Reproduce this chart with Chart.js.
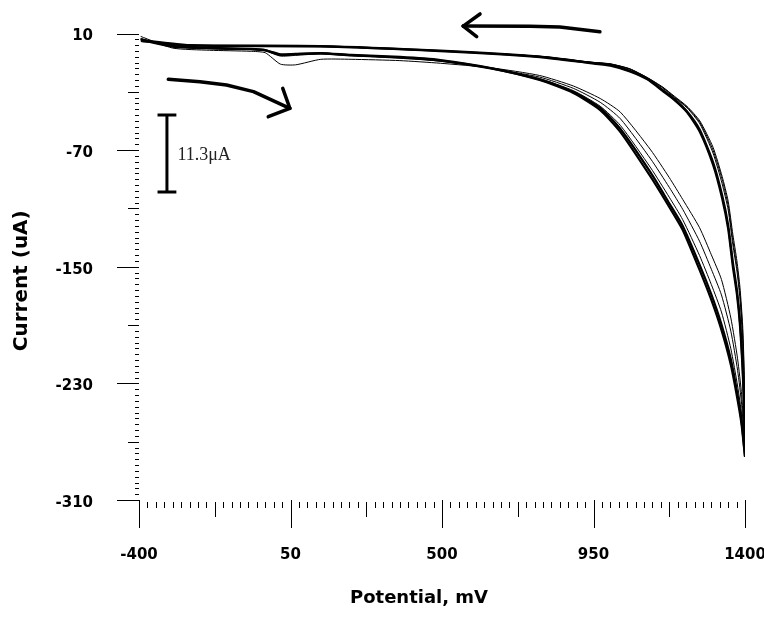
<!DOCTYPE html>
<html>
<head>
<meta charset="utf-8">
<script src="https://cdn.jsdelivr.net/npm/chart.js@4.4.0/dist/chart.umd.min.js"></script>
<style>
  html, body { margin: 0; padding: 0; background: #fff; }
  #wrap { width: 764px; height: 620px; }
</style>
</head>
<body>
<div id="wrap"><canvas id="cv"></canvas></div>
<script>
// potential (mV), forward sweep then return sweep
const forwardPotential = [-395, -300, -190, -70, -25, 20, 65, 140, 230, 375, 495, 645, 790, 890, 970, 1030, 1120, 1175, 1215, 1265, 1300, 1330, 1358, 1378, 1390, 1400];
const reversePotential = [1400, 1399, 1397, 1393, 1385, 1376, 1364, 1350, 1332, 1305, 1266, 1228, 1190, 1156, 1110, 1058, 1000, 940, 791, 494, 138, -257, -394];

// current (uA) - heavy traces
const cycleA_fwd = [6.2, 1.4, 0.1, -0.6, -1.3, -4.7, -4.1, -3.4, -4.7, -6.1, -8.2, -13.7, -21.9, -30.8, -42.5, -57.6, -88.4, -109.0, -124.8, -152.2, -172.8, -193.4, -217.4, -241.4, -258.6, -280.5];
const cycleA_rev = [-280.5, -265, -243, -218, -187, -166, -147, -121.4, -100.8, -78.2, -56.2, -43.5, -35, -28.8, -21, -15.5, -11.5, -10.0, -5.9, -1.8, 1.4, 2.1, 5.5];
const cycleB_fwd = [5.5, 1.0, -0.2, -0.8, -1.5, -4.3, -4.0, -3.6, -5.0, -6.5, -8.6, -13.9, -21.5, -30.0, -41.0, -55.5, -85.5, -106.5, -122.0, -148.5, -169.0, -189.5, -213.5, -238.0, -256.5, -280.0];
const cycleB_rev = [-280, -266, -245, -221, -190, -169, -150, -124, -103, -80, -57.5, -44, -35.5, -29.5, -21.5, -16, -12, -10.4, -6.2, -2.1, 1.1, 1.8, 5.0];

// current (uA) - light traces
const cycle1_fwd = [8.0, 0.0, -1.5, -2.2, -3.2, -11.0, -11.5, -7.7, -7.7, -8.6, -10.4, -13.5, -18.8, -26.0, -34.6, -44.0, -69.9, -88.8, -103.8, -123.2, -141.8, -158.7, -185.2, -213.1, -237.8, -272];
const cycle1_rev = [-272, -240, -216, -190, -164, -146, -128, -105, -88, -68, -50, -40, -33, -26.8, -20.2, -14.2, -10.8, -9.6, -5.6, -2.0, 1.0, 1.8, 4.5];
const cycle2_fwd = [6.5, 1.0, -0.3, -1.0, -2.0, -5.5, -5.0, -4.0, -5.2, -6.8, -9.0, -14.0, -19.9, -27.6, -37.2, -48.5, -76.1, -95.5, -110.6, -132.5, -151.7, -169.3, -194.3, -221.0, -244.3, -275];
const cycle2_rev = [-275, -245, -222, -195, -168, -150, -132, -108, -90, -70, -51, -40.5, -33.5, -27, -20.4, -14.3, -10.9, -9.7, -5.7, -1.9, 1.2, 1.9, 4.8];
const cycle3_fwd = [6.0, 1.2, -0.2, -0.9, -1.8, -5.0, -4.6, -3.8, -5.0, -6.6, -8.7, -13.9, -20.9, -29.2, -39.9, -53.1, -82.2, -102.3, -117.7, -142.3, -162.2, -181.0, -206.3, -231.8, -251.4, -278];
const cycle3_rev = [-278, -250, -228, -200, -172, -153, -135, -111, -93, -72, -52, -41, -34, -27.5, -20.6, -14.5, -11.0, -9.8, -5.8, -1.8, 1.3, 2.0, 5.0];

const xTickLabels = [-400, 50, 500, 950, 1400];
const yTickLabels = [10, -70, -150, -230, -310];

// hand drawn marks on the plot, in data units
const arrowTop = { shaft: [[969, 11.2], [850, 14.5], [761, 14.9], [563, 15.1]], barbs: [[613, 23.4], [603, 7.8]] };
const arrowBottom = { shaft: [[-313, -21.4], [-219, -23.1], [-140, -25.3], [-60, -29.9], [48, -41.3]], barbs: [[27, -27.6], [-16, -47.1]] };
const scaleBar = { x: -317, top: -45.9, bottom: -98.7, half: 28, text: '11.3\u03bcA', textX: -286, textY: -73.4 };

function trace(fwd, rev) {
  return forwardPotential.map((e, i) => ({ x: e, y: fwd[i] }))
    .concat(reversePotential.map((e, i) => ({ x: e, y: rev[i] })));
}

function thin(data) {
  return { data: data, borderColor: '#000', borderWidth: 1, pointRadius: 0, tension: 0.2, fill: false };
}
function heavy(data) {
  return { data: data, borderColor: '#000', borderWidth: 2.2, pointRadius: 0, tension: 0.2, fill: false };
}

const tickFont = { family: 'DejaVu Sans', size: 15, weight: 'bold' };

// keep the plot box fixed, labels may hang over the edge
function noPad(s) {
  s.paddingTop = 0; s.paddingBottom = 0; s.paddingLeft = 0; s.paddingRight = 0;
}

const extras = {
  id: 'extras',
  afterDraw(chart) {
    const ctx = chart.ctx;
    const xs = chart.scales.x, ys = chart.scales.y;
    const a = chart.chartArea;
    ctx.save();
    ctx.strokeStyle = '#000';
    ctx.fillStyle = '#000';
    ctx.lineWidth = 1;

    // y axis ticks: minor every 4, mid every 40, major every 80
    for (let v = -310; v <= 10; v += 4) {
      const py = Math.round(ys.getPixelForValue(v)) + 0.5;
      const k = (v + 310) % 80 === 0 ? 22 : ((v + 310) % 40 === 0 ? 11 : 4);
      ctx.beginPath();
      ctx.moveTo(a.left - k, py);
      ctx.lineTo(a.left, py);
      ctx.stroke();
    }
    // x axis ticks: minor every 25, mid every 225, major every 450
    for (let v = -400; v <= 1400; v += 25) {
      const px = Math.round(xs.getPixelForValue(v)) + 0.5;
      let y0 = a.bottom + 2, y1 = a.bottom + 8;
      if ((v + 400) % 450 === 0) { y0 = a.bottom; y1 = a.bottom + 28; }
      else if ((v + 400) % 225 === 0) { y1 = a.bottom + 17; }
      ctx.beginPath();
      ctx.moveTo(px, y0);
      ctx.lineTo(px, y1);
      ctx.stroke();
    }

    // axis titles
    ctx.font = 'bold 18px "DejaVu Sans"';
    ctx.textAlign = 'center';
    ctx.textBaseline = 'middle';
    ctx.fillText('Potential, mV', (a.left + a.right) / 2 - 23, a.bottom + 98);
    ctx.save();
    ctx.translate(22, (a.top + a.bottom) / 2 + 14);
    ctx.rotate(-Math.PI / 2);
    ctx.font = 'bold 20px "DejaVu Sans"';
    ctx.fillText('Current (uA)', 0, 0);
    ctx.restore();

    // sweep direction arrows
    ctx.lineWidth = 3.5;
    ctx.lineCap = 'round';
    ctx.lineJoin = 'round';
    [arrowTop, arrowBottom].forEach(ar => {
      const pts = ar.shaft.map(p => [xs.getPixelForValue(p[0]), ys.getPixelForValue(p[1])]);
      ctx.beginPath();
      ctx.moveTo(pts[0][0], pts[0][1]);
      for (let i = 1; i < pts.length; i++) ctx.lineTo(pts[i][0], pts[i][1]);
      ctx.stroke();
      const tip = pts[pts.length - 1];
      ar.barbs.forEach(b => {
        ctx.beginPath();
        ctx.moveTo(tip[0], tip[1]);
        ctx.lineTo(xs.getPixelForValue(b[0]), ys.getPixelForValue(b[1]));
        ctx.stroke();
      });
    });

    // current scale bar
    ctx.lineCap = 'butt';
    ctx.lineWidth = 3;
    const bx = xs.getPixelForValue(scaleBar.x);
    const bt = ys.getPixelForValue(scaleBar.top);
    const bb = ys.getPixelForValue(scaleBar.bottom);
    const bh = xs.getPixelForValue(scaleBar.x + scaleBar.half) - bx;
    ctx.beginPath();
    ctx.moveTo(bx, bt); ctx.lineTo(bx, bb);
    ctx.moveTo(bx - bh, bt); ctx.lineTo(bx + bh, bt);
    ctx.moveTo(bx - bh, bb); ctx.lineTo(bx + bh, bb);
    ctx.stroke();
    ctx.font = '18px "Liberation Serif"';
    ctx.textAlign = 'left';
    ctx.fillStyle = '#222';
    ctx.fillText(scaleBar.text, xs.getPixelForValue(scaleBar.textX), ys.getPixelForValue(scaleBar.textY));
    ctx.restore();
  }
};

new Chart(document.getElementById('cv'), {
  type: 'line',
  data: {
    datasets: [
      thin(trace(cycle1_fwd, cycle1_rev)),
      thin(trace(cycle2_fwd, cycle2_rev)),
      thin(trace(cycle3_fwd, cycle3_rev)),
      heavy(trace(cycleB_fwd, cycleB_rev)),
      heavy(trace(cycleA_fwd, cycleA_rev))
    ]
  },
  options: {
    responsive: true,
    maintainAspectRatio: false,
    animation: false,
    layout: { padding: { top: 33.5, right: 19, bottom: 0, left: 0 }, autoPadding: false },
    plugins: { legend: { display: false }, tooltip: { enabled: false } },
    scales: {
      x: {
        type: 'linear',
        min: -400,
        max: 1400,
        grid: { display: false, drawTicks: false },
        border: { display: false },
        ticks: { padding: 46, font: tickFont, color: '#000', maxRotation: 0, autoSkip: false, callback: v => String(v) },
        afterBuildTicks: s => { s.ticks = xTickLabels.map(v => ({ value: v })); },
        afterFit: s => { s.height = 120; noPad(s); }
      },
      y: {
        type: 'linear',
        min: -310,
        max: 10,
        grid: { display: false, drawTicks: false },
        border: { display: false },
        ticks: { padding: 46, font: tickFont, color: '#000', labelOffset: 3, autoSkip: false, callback: v => String(v) },
        afterBuildTicks: s => { s.ticks = yTickLabels.map(v => ({ value: v })); },
        afterFit: s => { s.width = 139; noPad(s); }
      }
    }
  },
  plugins: [extras]
});
</script>
</body>
</html>
